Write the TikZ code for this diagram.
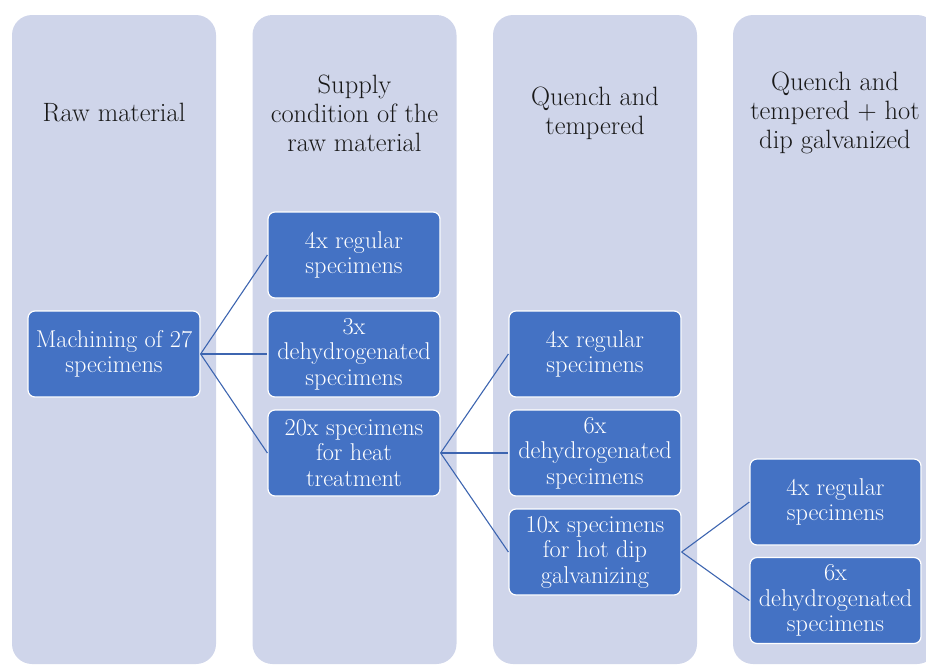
\documentclass[tikz,border=0pt]{standalone}
\usepackage{fontspec}
\setmainfont{Latin Modern Roman}
\usetikzlibrary{positioning}
\definecolor{colfill}{HTML}{CFD5EA}
\definecolor{boxblue}{HTML}{4472C4}
\definecolor{connblue}{HTML}{3D65B0}
\tikzset{
  colbox/.style={fill=colfill, rounded corners=20pt, minimum width=204pt, minimum height=649pt, inner sep=0pt},
  hdr/.style={font=\fontsize{26.5}{29}\selectfont, align=center, text=black!90},
  sbox/.style={fill=boxblue, draw=white, line width=1.2pt, rounded corners=7pt, minimum width=172pt, minimum height=86pt, inner sep=1pt, text=white, font=\fontsize{24.3}{25.5}\selectfont, align=center},
  conn/.style={draw=connblue, line width=1.1pt}
}
\begin{document}
\begin{tikzpicture}[x=1pt,y=-1pt]
\useasboundingbox (0,0) rectangle (926,664);
\clip (0,0) rectangle (926,664);
% columns
\node[colbox] (c1) at (114,339.5) {};
\node[colbox] (c2) at (354.5,339.5) {};
\node[colbox] (c3) at (595,339.5) {};
\node[colbox] (c4) at (835,339.5) {};
% headers
\node[hdr] (h1) at (114,113) {Raw material};
\node[hdr] (h2) at (354.5,113) {Supply\\condition of the\\raw material};
\node[hdr] (h3) at (595,113) {Quench and\\tempered};
\node[hdr] (h4) at (835,113) {Quench and\\tempered + hot\\dip galvanized};
% boxes
\node[sbox] (m) at (114,354) {Machining of 27\\specimens};
\node[sbox] (s1) at (354,255) {4x regular\\specimens};
\node[sbox] (s2) at (354,354) {3x\\dehydrogenated\\specimens};
\node[sbox] (s3) at (354,453) {20x specimens\\for heat\\treatment};
\node[sbox] (q1) at (595,354) {4x regular\\specimens};
\node[sbox] (q2) at (595,453) {6x\\dehydrogenated\\specimens};
\node[sbox] (q3) at (595,552) {10x specimens\\for hot dip\\galvanizing};
\node[sbox, minimum width=171pt] (g1) at (835.5,502) {4x regular\\specimens};
\node[sbox, minimum width=171pt] (g2) at (835.5,600.5) {6x\\dehydrogenated\\specimens};
% connectors
\draw[conn] (m.east) -- (s1.west);
\draw[conn] (m.east) -- (s2.west);
\draw[conn] (m.east) -- (s3.west);
\draw[conn] (s3.east) -- (q1.west);
\draw[conn] (s3.east) -- (q2.west);
\draw[conn] (s3.east) -- (q3.west);
\draw[conn] (q3.east) -- (g1.west);
\draw[conn] (q3.east) -- (g2.west);
\end{tikzpicture}
\end{document}
